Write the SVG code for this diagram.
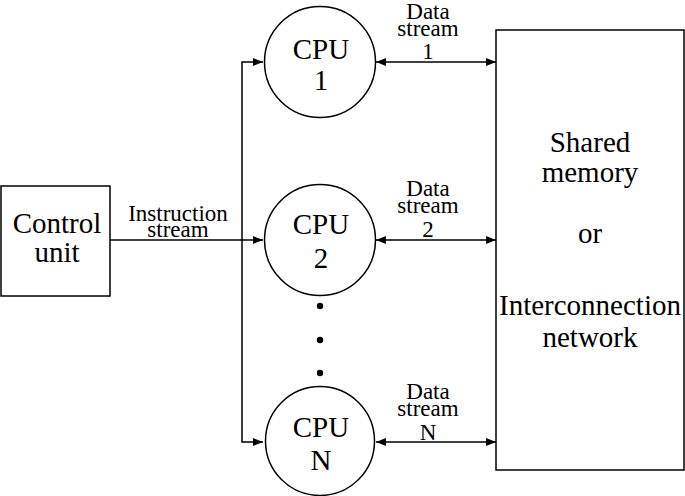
<svg xmlns="http://www.w3.org/2000/svg" width="685" height="496" viewBox="0 0 685 496">
<defs>
<style>
.ln{fill:none;stroke:#000;stroke-width:1.5}
.sh{fill:#fff;stroke:#000;stroke-width:1.5}
.big{font-family:'Liberation Serif','DejaVu Serif',serif;font-size:29px;text-anchor:middle;fill:#000}
.sm{font-family:'Liberation Serif','DejaVu Serif',serif;font-size:23px;text-anchor:middle;fill:#000}
</style>
<marker id="ah" viewBox="0 0 10 8" refX="10" refY="4" markerWidth="10" markerHeight="8" markerUnits="userSpaceOnUse" orient="auto-start-reverse">
<path d="M0,0 L10,4 L0,8 Z" fill="#000"/>
</marker>
</defs>
<rect width="685" height="496" fill="#fff"/>
<g id="connectors">
<line class="ln" x1="110" y1="240" x2="263" y2="240" marker-end="url(#ah)"/>
<polyline class="ln" points="263,62 242,62 242,442 263,442" marker-start="url(#ah)" marker-end="url(#ah)"/>
<line class="ln" x1="376" y1="62" x2="496" y2="62" marker-start="url(#ah)" marker-end="url(#ah)"/>
<line class="ln" x1="376" y1="240" x2="496" y2="240" marker-start="url(#ah)" marker-end="url(#ah)"/>
<line class="ln" x1="376" y1="442" x2="496" y2="442" marker-start="url(#ah)" marker-end="url(#ah)"/>
<text class="sm"><tspan x="178" y="221">Instruction</tspan><tspan x="178" y="237">stream</tspan></text>
<text class="sm"><tspan x="428" y="19">Data</tspan><tspan x="428" y="36">stream</tspan><tspan x="428" y="59">1</tspan></text>
<text class="sm"><tspan x="428" y="196">Data</tspan><tspan x="428" y="213">stream</tspan><tspan x="428" y="237">2</tspan></text>
<text class="sm"><tspan x="428" y="399">Data</tspan><tspan x="428" y="416">stream</tspan><tspan x="428" y="440">N</tspan></text>
</g>
<g id="control-unit">
<rect class="sh" x="1" y="186" width="109" height="110"/>
<text class="big"><tspan x="57" y="233">Control</tspan><tspan x="57" y="262">unit</tspan></text>
</g>
<g id="cpu1">
<circle class="sh" cx="320" cy="62" r="55.5"/>
<text class="big"><tspan x="321" y="59">CPU</tspan><tspan x="321" y="90">1</tspan></text>
</g>
<g id="cpu2">
<circle class="sh" cx="320" cy="240" r="55.5"/>
<text class="big"><tspan x="321" y="234">CPU</tspan><tspan x="321" y="268">2</tspan></text>
</g>
<g id="dots">
<circle cx="320" cy="306" r="3.2" fill="#000"/>
<circle cx="320" cy="340" r="3.2" fill="#000"/>
<circle cx="320" cy="373" r="3.2" fill="#000"/>
</g>
<g id="cpuN">
<circle class="sh" cx="320" cy="441" r="54.5"/>
<text class="big"><tspan x="321" y="437">CPU</tspan><tspan x="321" y="470">N</tspan></text>
</g>
<g id="memory">
<rect class="sh" x="496" y="30" width="188" height="440"/>
<text class="big"><tspan x="590" y="152">Shared</tspan><tspan x="590" y="182">memory</tspan><tspan x="590" y="243">or</tspan><tspan x="590" y="315">Interconnection</tspan><tspan x="590" y="347">network</tspan></text>
</g>
</svg>
